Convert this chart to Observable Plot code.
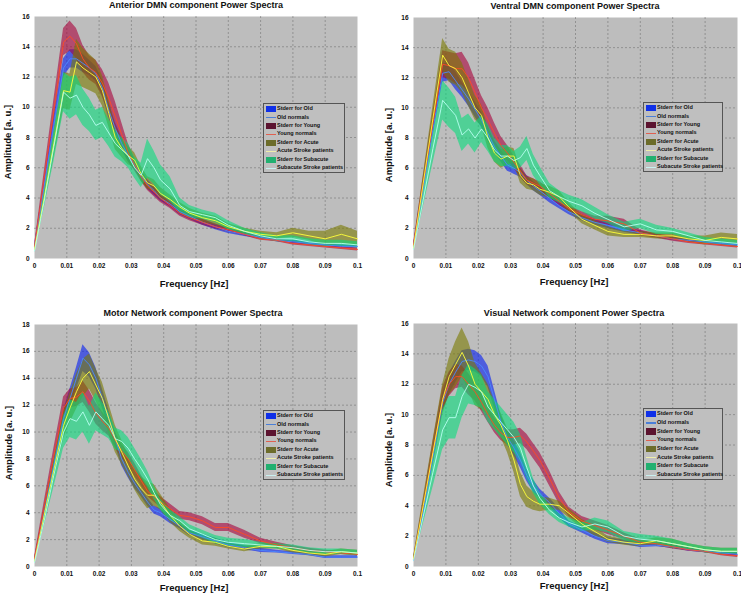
<!DOCTYPE html>
<html><head><meta charset="utf-8">
<script src="https://cdn.jsdelivr.net/npm/d3@7"></script>
<script src="https://cdn.jsdelivr.net/npm/@observablehq/plot@0.6"></script>
<style>
body{margin:0;background:#fff;width:741px;height:595px;position:relative;overflow:hidden;font-family:"Liberation Sans",Arial,sans-serif;color:#111}
.abs{position:absolute}
.title{position:absolute;font-weight:bold;font-size:9px;white-space:nowrap;transform:translate(-50%,-50%)}
.xlab{position:absolute;font-weight:bold;font-size:9.5px;white-space:nowrap;transform:translate(-50%,-50%)}
.ylab{position:absolute;font-weight:bold;font-size:9.5px;white-space:nowrap;transform:translate(-50%,-50%) rotate(-90deg)}
.legend{position:absolute;border:1px solid #555;background:#bfbfbf;box-sizing:border-box}
.legend .row{position:absolute;left:13px;font-size:5.5px;font-weight:bold;white-space:nowrap;transform:translateY(-50%);line-height:1}
.legend .sw{position:absolute;left:2px;width:10px}
</style>
</head><body>
<script>
// ---------- data ----------
const freq = [0, .003, .006, .009, .011, .013, .015, .017, .019, .021, .023, .025, .027, .029, .031, .033, .035, .037, .039, .042, .045, .048, .052, .056, .060, .065, .070, .075, .080, .085, .090, .095, .100];
const xTicks = [0, 0.01, 0.02, 0.03, 0.04, 0.05, 0.06, 0.07, 0.08, 0.09, 0.1];
const xTickLabels = ["0", "0.01", "0.02", "0.03", "0.04", "0.05", "0.06", "0.07", "0.08", "0.09", "0.1"];
const yTicks16 = [0, 2, 4, 6, 8, 10, 12, 14, 16];
const yTicks18 = [0, 2, 4, 6, 8, 10, 12, 14, 16, 18];
const panelTitles = ["Anterior DMN component Power Spectra", "Ventral DMN component Power Spectra", "Motor Network component Power Spectra", "Visual Network component Power Spectra"];
const groups = ["Old", "Young", "Acute", "Subacute"];
const legendLabels = ["Stderr for Old", "Old normals", "Stderr for Young", "Young normals", "Stderr for Acute", "Acute Stroke patients", "Stderr for Subacute", "Subacute Stroke patients"];
const xLabel = "Frequency [Hz]";
const yLabel = "Amplitude [a. u.]";

// Anterior DMN
const p1OldMean = [0.8, 4.8, 8.8, 12.6, 13.2, 13.2, 12.9, 12.6, 12.2, 11.3, 9.8, 8.6, 7.6, 6.8, 6.2, 5.5, 4.9, 4.5, 4.0, 3.6, 3.1, 2.8, 2.4, 2.1, 1.8, 1.6, 1.4, 1.2, 1.1, 1.0, 0.9, 0.8, 0.8];
const p1OldErr = [0.1, 0.3, 0.5, 0.6, 0.6, 0.6, 0.6, 0.5, 0.5, 0.5, 0.5, 0.4, 0.4, 0.4, 0.3, 0.3, 0.3, 0.3, 0.2, 0.2, 0.2, 0.2, 0.2, 0.2, 0.15, 0.15, 0.1, 0.1, 0.1, 0.1, 0.1, 0.1, 0.1];
const p1YoungMean = [0.8, 5.3, 9.8, 14.3, 14.7, 14.2, 13.2, 12.6, 12.3, 11.6, 10.6, 9.4, 8.2, 7.0, 6.2, 5.4, 4.8, 4.4, 4.0, 3.5, 3.0, 2.7, 2.4, 2.1, 1.9, 1.6, 1.3, 1.2, 1.0, 0.9, 0.8, 0.7, 0.6];
const p1YoungErr = [0.1, 0.4, 0.7, 0.9, 1.0, 1.0, 0.9, 0.8, 0.8, 0.9, 1.0, 1.0, 0.8, 0.6, 0.4, 0.3, 0.3, 0.3, 0.3, 0.2, 0.2, 0.2, 0.2, 0.15, 0.15, 0.1, 0.1, 0.1, 0.1, 0.1, 0.1, 0.1, 0.1];
const p1AcuteMean = [0.6, 4.0, 7.6, 11.1, 11.0, 13.0, 12.6, 12.3, 12.0, 11.1, 9.6, 8.0, 7.3, 6.8, 6.5, 5.6, 5.0, 4.8, 4.3, 3.9, 3.4, 3.0, 2.7, 2.5, 2.1, 1.8, 1.6, 1.5, 1.7, 1.5, 1.3, 1.6, 1.3];
const p1AcuteErr = [0.1, 0.5, 0.9, 1.2, 1.2, 1.5, 1.3, 1.2, 1.1, 1.0, 0.9, 0.8, 0.6, 0.6, 0.5, 0.5, 0.4, 0.4, 0.4, 0.3, 0.3, 0.3, 0.3, 0.3, 0.2, 0.2, 0.2, 0.2, 0.3, 0.3, 0.5, 0.6, 0.5];
const p1SubMean = [0.5, 3.8, 7.4, 11.0, 10.6, 10.8, 10.0, 9.5, 8.8, 9.0, 8.3, 7.6, 7.2, 6.8, 6.0, 5.5, 6.6, 6.0, 5.2, 4.6, 3.5, 3.1, 2.9, 2.7, 2.2, 1.8, 1.5, 1.3, 1.3, 1.1, 1.0, 1.0, 0.9];
const p1SubErr = [0.1, 0.5, 1.0, 1.3, 1.4, 1.3, 1.2, 1.1, 1.0, 1.0, 0.9, 0.9, 0.8, 0.8, 0.7, 0.8, 1.3, 1.1, 1.0, 0.8, 0.5, 0.4, 0.3, 0.3, 0.3, 0.2, 0.2, 0.2, 0.2, 0.2, 0.2, 0.2, 0.2];

// Ventral DMN
const p2OldMean = [0.8, 4.7, 8.6, 12.3, 12.4, 11.8, 11.2, 10.6, 9.9, 9.2, 8.3, 7.4, 6.8, 6.2, 6.0, 5.7, 5.2, 4.8, 4.5, 4.0, 3.5, 3.1, 2.7, 2.4, 2.2, 1.9, 1.7, 1.5, 1.3, 1.2, 1.1, 1.0, 0.9];
const p2OldErr = [0.1, 0.3, 0.5, 0.6, 0.6, 0.6, 0.5, 0.5, 0.5, 0.5, 0.5, 0.4, 0.4, 0.4, 0.4, 0.3, 0.3, 0.3, 0.3, 0.3, 0.2, 0.2, 0.2, 0.2, 0.2, 0.15, 0.15, 0.1, 0.1, 0.1, 0.1, 0.1, 0.1];
const p2YoungMean = [0.9, 5.0, 9.0, 12.9, 12.8, 12.6, 12.6, 12.0, 11.0, 10.0, 9.2, 8.3, 7.5, 7.0, 6.4, 5.8, 5.2, 5.0, 4.8, 4.3, 3.8, 3.3, 2.9, 2.6, 2.5, 2.3, 1.7, 1.5, 1.3, 1.1, 1.0, 0.9, 0.8];
const p2YoungErr = [0.1, 0.4, 0.7, 0.9, 0.9, 1.0, 1.1, 1.0, 0.9, 0.8, 0.8, 0.7, 0.6, 0.5, 0.4, 0.4, 0.3, 0.3, 0.3, 0.3, 0.3, 0.2, 0.2, 0.2, 0.3, 0.3, 0.2, 0.15, 0.15, 0.1, 0.1, 0.1, 0.1];
const p2AcuteMean = [0.7, 5.0, 9.3, 13.5, 12.8, 12.6, 12.0, 11.0, 10.0, 9.5, 8.0, 7.0, 6.6, 6.8, 6.8, 5.5, 5.0, 4.9, 4.6, 4.4, 4.1, 3.4, 2.6, 2.2, 1.8, 1.6, 1.6, 1.5, 1.5, 1.3, 1.2, 1.4, 1.3];
const p2AcuteErr = [0.1, 0.5, 0.8, 1.1, 1.1, 1.1, 1.0, 0.9, 0.8, 0.7, 0.7, 0.6, 0.6, 0.6, 0.5, 0.5, 0.4, 0.4, 0.4, 0.4, 0.4, 0.3, 0.3, 0.3, 0.3, 0.2, 0.2, 0.2, 0.2, 0.2, 0.3, 0.3, 0.3];
const p2SubMean = [0.6, 3.9, 7.3, 10.5, 10.0, 9.5, 8.2, 8.6, 8.0, 8.6, 8.0, 7.2, 6.8, 6.8, 6.5, 6.7, 7.3, 6.2, 5.5, 4.5, 4.1, 3.8, 3.5, 3.0, 2.6, 2.1, 2.3, 1.9, 1.8, 1.5, 1.2, 1.1, 1.0];
const p2SubErr = [0.1, 0.5, 1.0, 1.3, 1.3, 1.2, 1.1, 1.0, 1.0, 0.9, 0.9, 0.8, 0.7, 0.7, 0.6, 0.7, 0.8, 0.7, 0.6, 0.5, 0.4, 0.4, 0.4, 0.4, 0.3, 0.3, 0.3, 0.3, 0.2, 0.2, 0.2, 0.2, 0.2];

// Motor Network
const p3OldMean = [0.5, 4.0, 7.5, 11.0, 12.5, 14.0, 15.5, 15.0, 14.0, 12.5, 11.0, 9.5, 8.0, 7.0, 6.2, 5.5, 4.8, 4.2, 4.0, 3.5, 3.0, 2.5, 2.2, 1.9, 1.6, 1.4, 1.2, 1.1, 1.0, 0.9, 0.7, 0.7, 0.7];
const p3OldErr = [0.1, 0.3, 0.5, 0.6, 0.7, 0.8, 1.0, 0.9, 0.8, 0.7, 0.6, 0.5, 0.5, 0.4, 0.4, 0.3, 0.3, 0.3, 0.3, 0.3, 0.2, 0.2, 0.2, 0.2, 0.2, 0.15, 0.15, 0.1, 0.1, 0.1, 0.1, 0.1, 0.1];
const p3YoungMean = [0.6, 4.4, 8.2, 11.8, 12.5, 12.6, 13.0, 12.3, 11.4, 10.8, 10.3, 9.4, 8.6, 8.0, 7.2, 6.4, 5.6, 5.2, 4.8, 4.3, 3.8, 3.7, 3.4, 2.9, 2.9, 2.4, 1.9, 1.6, 1.4, 1.2, 1.1, 1.0, 0.9];
const p3YoungErr = [0.1, 0.4, 0.6, 0.8, 0.7, 0.7, 0.8, 0.8, 0.8, 0.7, 0.6, 0.6, 0.5, 0.5, 0.5, 0.4, 0.4, 0.4, 0.4, 0.35, 0.3, 0.3, 0.3, 0.3, 0.3, 0.3, 0.2, 0.2, 0.15, 0.15, 0.1, 0.1, 0.1];
const p3AcuteMean = [0.4, 3.8, 7.2, 10.5, 11.8, 13.0, 14.0, 14.5, 13.5, 12.5, 11.0, 9.5, 8.5, 7.5, 6.5, 5.8, 5.3, 5.3, 4.8, 3.8, 3.0, 2.4, 1.9, 1.8, 1.5, 1.3, 1.5, 1.5, 1.2, 1.0, 0.9, 1.1, 1.0];
const p3AcuteErr = [0.1, 0.5, 0.8, 1.0, 1.1, 1.3, 1.4, 1.3, 1.2, 1.2, 1.1, 1.0, 0.9, 0.8, 0.8, 0.9, 1.0, 0.8, 0.6, 0.5, 0.4, 0.3, 0.3, 0.3, 0.2, 0.2, 0.2, 0.2, 0.2, 0.2, 0.2, 0.2, 0.2];
const p3SubMean = [0.3, 3.4, 6.8, 10.0, 11.0, 10.8, 11.5, 10.5, 11.5, 11.0, 10.5, 9.5, 9.3, 8.8, 8.0, 7.3, 6.5, 5.5, 4.6, 3.8, 3.4, 2.8, 2.4, 2.0, 1.8, 1.7, 1.6, 1.5, 1.4, 1.2, 1.1, 1.1, 1.0];
const p3SubErr = [0.1, 0.4, 0.9, 1.2, 1.4, 1.4, 1.5, 1.4, 1.4, 1.2, 1.0, 0.8, 0.8, 0.8, 0.8, 0.7, 0.6, 0.5, 0.4, 0.4, 0.3, 0.3, 0.3, 0.3, 0.3, 0.3, 0.2, 0.2, 0.2, 0.2, 0.2, 0.2, 0.2];

// Visual Network
const p4OldMean = [0.4, 3.6, 7.2, 10.8, 12.0, 12.8, 13.5, 13.6, 13.5, 13.2, 12.5, 11.0, 9.5, 8.5, 7.8, 7.0, 6.0, 5.3, 4.8, 4.2, 3.5, 2.8, 2.4, 2.0, 1.7, 1.6, 1.4, 1.4, 1.3, 1.1, 1.0, 0.9, 0.8];
const p4OldErr = [0.1, 0.3, 0.5, 0.6, 0.7, 0.7, 0.7, 0.7, 0.7, 0.7, 0.7, 0.6, 0.5, 0.5, 0.5, 0.5, 0.4, 0.4, 0.3, 0.3, 0.3, 0.2, 0.2, 0.2, 0.2, 0.15, 0.15, 0.1, 0.1, 0.1, 0.1, 0.1, 0.1];
const p4YoungMean = [0.5, 4.0, 7.6, 11.0, 12.0, 12.5, 12.5, 12.0, 11.5, 10.8, 10.0, 9.3, 8.8, 8.5, 8.5, 8.6, 8.2, 7.6, 7.0, 5.8, 4.5, 3.6, 3.0, 2.7, 2.4, 2.0, 1.6, 1.5, 1.3, 1.1, 1.0, 0.8, 0.7];
const p4YoungErr = [0.1, 0.3, 0.6, 0.8, 0.8, 0.8, 0.7, 0.7, 0.6, 0.6, 0.5, 0.5, 0.5, 0.5, 0.5, 0.5, 0.5, 0.5, 0.5, 0.5, 0.4, 0.3, 0.3, 0.3, 0.3, 0.2, 0.2, 0.15, 0.15, 0.1, 0.1, 0.1, 0.1];
const p4AcuteMean = [0.5, 4.0, 7.5, 11.0, 12.5, 13.3, 14.1, 13.2, 12.0, 11.5, 11.0, 10.0, 9.3, 8.3, 7.0, 5.4, 4.6, 4.3, 4.1, 4.1, 4.0, 3.5, 2.8, 2.3, 1.8, 1.6, 1.5, 1.7, 1.5, 1.3, 1.1, 1.0, 1.0];
const p4AcuteErr = [0.1, 0.5, 0.8, 1.0, 1.2, 1.5, 1.6, 1.6, 1.4, 1.2, 1.0, 0.9, 0.8, 0.8, 0.8, 0.8, 0.7, 0.6, 0.5, 0.4, 0.3, 0.3, 0.3, 0.3, 0.2, 0.2, 0.2, 0.2, 0.3, 0.2, 0.2, 0.2, 0.2];
const p4SubMean = [0.4, 3.3, 6.2, 9.0, 9.8, 9.8, 11.2, 12.0, 11.8, 11.5, 10.5, 10.0, 9.5, 9.0, 8.5, 7.8, 6.5, 5.3, 4.5, 3.7, 3.2, 2.9, 2.6, 2.8, 2.6, 2.0, 1.8, 1.7, 1.5, 1.3, 1.1, 1.0, 1.0];
const p4SubErr = [0.1, 0.5, 1.0, 1.3, 1.4, 1.4, 1.4, 1.3, 1.2, 1.1, 1.0, 1.0, 1.0, 1.0, 1.0, 0.9, 0.7, 0.5, 0.4, 0.3, 0.3, 0.3, 0.3, 0.4, 0.4, 0.3, 0.3, 0.3, 0.3, 0.2, 0.2, 0.2, 0.2];

// ---------- styling ----------
const bandFill = {Old: "#0a22f0", Young: "#a8003a", Acute: "#7a7a00", Subacute: "#06dc7c"};
const bandOpacity = {Old: 0.62, Young: 0.6, Acute: 0.6, Subacute: 0.6};
const lineStroke = {Old: "#4a88ff", Young: "#ff4a22", Acute: "#ffff3a", Subacute: "#b8fff0"};
const legendSwatch = ["#1030e8", "#4a7fd8", "#5c1430", "#e06050", "#6c6c2a", "#eeeeaa", "#22b070", "#c8f0f0"];

const panels = [
  {mean: [p1OldMean, p1YoungMean, p1AcuteMean, p1SubMean], err: [p1OldErr, p1YoungErr, p1AcuteErr, p1SubErr], yTicks: yTicks16,
   left: 0, top: 0, width: 370, height: 270, mL: 34, mR: 13, mT: 16, mB: 12,
   title: [196, 5], xl: [194, 283], yl: [7, 142], leg: [263, 103, 82, 70]},
  {mean: [p2OldMean, p2YoungMean, p2AcuteMean, p2SubMean], err: [p2OldErr, p2YoungErr, p2AcuteErr, p2SubErr], yTicks: yTicks16,
   left: 370, top: 0, width: 371, height: 271, mL: 43, mR: 4, mT: 17, mB: 13,
   title: [575, 6], xl: [574, 281], yl: [388, 145], leg: [643, 102, 80, 70]},
  {mean: [p3OldMean, p3YoungMean, p3AcuteMean, p3SubMean], err: [p3OldErr, p3YoungErr, p3AcuteErr, p3SubErr], yTicks: yTicks18,
   left: 0, top: 300, width: 370, height: 278, mL: 34, mR: 13, mT: 24, mB: 12,
   title: [193, 313], xl: [194, 587], yl: [7.5, 443], leg: [263, 410, 82, 70]},
  {mean: [p4OldMean, p4YoungMean, p4AcuteMean, p4SubMean], err: [p4OldErr, p4YoungErr, p4AcuteErr, p4SubErr], yTicks: yTicks16,
   left: 370, top: 300, width: 371, height: 278, mL: 43, mR: 4, mT: 23, mB: 12,
   title: [574, 313], xl: [574, 585], yl: [388, 450], leg: [643, 408, 80, 72]}
];

function div(cls, text, x, y) {
  const d = document.createElement("div");
  d.className = cls; d.textContent = text;
  d.style.left = x + "px"; d.style.top = y + "px";
  document.body.appendChild(d);
  return d;
}

panels.forEach((p, pi) => {
  const rows = [];
  groups.forEach((g, gi) => {
    p.mean[gi].forEach((m, i) => {
      rows.push({group: g, f: freq[i], m, lo: m - p.err[gi][i], hi: m + p.err[gi][i]});
    });
  });
  const yMax = p.yTicks[p.yTicks.length - 1];
  const bands = groups.map(g => Plot.areaY(rows.filter(r => r.group === g), {x: "f", y1: "lo", y2: "hi", fill: bandFill[g], fillOpacity: bandOpacity[g]}));
  const lines = groups.map(g => Plot.line(rows.filter(r => r.group === g), {x: "f", y: "m", stroke: lineStroke[g], strokeWidth: 0.9}));
  const chart = Plot.plot({
    width: p.width, height: p.height,
    marginLeft: p.mL, marginRight: p.mR, marginTop: p.mT, marginBottom: p.mB,
    x: {domain: [0, 0.1], ticks: xTicks, tickFormat: (d, i) => xTickLabels[i], tickSize: 0, tickPadding: 5, label: null},
    y: {domain: [0, yMax], ticks: p.yTicks, tickSize: 0, tickPadding: 5, label: null},
    style: {fontFamily: "'Liberation Sans', Arial, sans-serif", fontSize: "6.5px", fontWeight: "bold", color: "#111", background: "transparent", overflow: "visible"},
    marks: [
      Plot.frame({fill: "#bdbdbd", stroke: null}),
      Plot.ruleX(xTicks.slice(1, -1), {stroke: "#6a6a6a", strokeOpacity: 0.75, strokeDasharray: "2,2", strokeWidth: 0.7}),
      Plot.ruleY(p.yTicks.slice(1, -1), {stroke: "#6a6a6a", strokeOpacity: 0.75, strokeDasharray: "2,2", strokeWidth: 0.7}),
      ...bands,
      ...lines
    ]
  });
  chart.style.position = "absolute";
  chart.style.left = p.left + "px";
  chart.style.top = p.top + "px";
  document.body.appendChild(chart);

  div("title", panelTitles[pi], p.title[0], p.title[1]);
  div("xlab", xLabel, p.xl[0], p.xl[1]);
  div("ylab", yLabel, p.yl[0], p.yl[1]);

  const lg = document.createElement("div");
  lg.className = "legend";
  lg.style.left = p.leg[0] + "px"; lg.style.top = p.leg[1] + "px";
  lg.style.width = p.leg[2] + "px"; lg.style.height = p.leg[3] + "px";
  const step = (p.leg[3] - 11) / 7;
  legendLabels.forEach((t, i) => {
    const cy = 5.2 + i * step;
    const sw = document.createElement("div");
    sw.className = "sw";
    sw.style.background = legendSwatch[i];
    if (i % 2 === 0) { sw.style.top = (cy - 3.2) + "px"; sw.style.height = "6.4px"; }
    else { sw.style.top = (cy - 0.6) + "px"; sw.style.height = "1.2px"; }
    lg.appendChild(sw);
    const r = document.createElement("div");
    r.className = "row"; r.textContent = t; r.style.top = cy + "px";
    lg.appendChild(r);
  });
  document.body.appendChild(lg);
});
</script>
</body></html>
